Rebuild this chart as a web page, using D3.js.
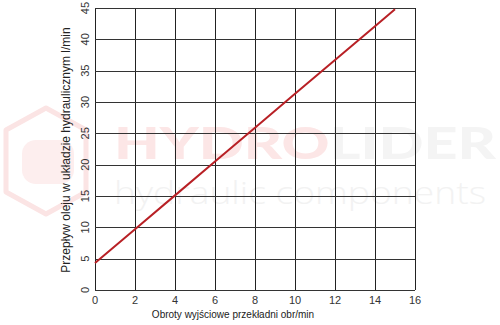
<!DOCTYPE html>
<html>
<head>
<meta charset="utf-8">
<script src="https://cdn.jsdelivr.net/npm/d3@7"></script>
<style>
  body { margin: 0; background: #fff; }
  svg { display: block; font-family: "Liberation Sans", Arial, sans-serif; }
</style>
</head>
<body>
<div id="chart"></div>
<script>
// values
var speeds = [0, 2, 4, 6, 8, 10, 12, 14, 15];
var flows = [4.3, 9.7, 15.1, 20.5, 25.9, 31.3, 36.7, 42.1, 44.8];
var xTicks = [0, 2, 4, 6, 8, 10, 12, 14, 16];
var yTicks = [0, 5, 10, 15, 20, 25, 30, 35, 40, 45];
var xTitle = "Obroty wyjściowe przekładni obr/min";
var yTitle = "Przepływ oleju w układzie hydraulicznym l/min";

var width = 500, height = 325,
    margin = {top: 8, right: 85, bottom: 35, left: 95};

var svg = d3.select('#chart').append('svg')
    .attr('width', width)
    .attr('height', height);

// watermark
var wm = svg.append('g').attr('class', 'watermark');
wm.append('path')
    .attr('d', 'M46,108 L86,130 L86,192 L46,214 L6,192 L6,130 Z')
    .attr('fill', 'none')
    .attr('stroke', '#fbe4e4')
    .attr('stroke-width', 5)
    .attr('stroke-linejoin', 'round');
wm.append('rect')
    .attr('x', 22).attr('y', 140).attr('width', 52).attr('height', 44).attr('rx', 14)
    .attr('fill', '#fdeeee');
wm.append('text')
    .attr('x', 114).attr('y', 159)
    .attr('textLength', 382).attr('lengthAdjust', 'spacingAndGlyphs')
    .style('font-family', 'Lato, "Open Sans", sans-serif')
    .style('font-weight', 900)
    .style('font-size', '44px')
    .html('<tspan fill="#fce6e6">HYDRO</tspan><tspan fill="#f4f4f4">LIDER</tspan>');
wm.append('text')
    .attr('x', 114).attr('y', 204)
    .attr('textLength', 372).attr('lengthAdjust', 'spacingAndGlyphs')
    .attr('fill', '#f2f2f2')
    .style('font-family', '"Open Sans", Lato, sans-serif')
    .style('font-weight', 300)
    .style('font-size', '31px')
    .text('hydraulic components');

var x = d3.scaleLinear().domain([0, 16]).range([margin.left, width - margin.right]);
var y = d3.scaleLinear().domain([0, 45]).range([height - margin.bottom, margin.top]);

// grid
svg.append('g')
    .selectAll('line')
    .data(xTicks)
    .join('line')
    .attr('x1', function(d) { return Math.round(x(d)) + 0.5; })
    .attr('x2', function(d) { return Math.round(x(d)) + 0.5; })
    .attr('y1', y(0))
    .attr('y2', y(45))
    .attr('stroke', '#222')
    .attr('stroke-width', 1);

svg.append('g')
    .selectAll('line')
    .data(yTicks)
    .join('line')
    .attr('x1', x(0))
    .attr('x2', x(16))
    .attr('y1', function(d) { return Math.round(y(d)) + 0.5; })
    .attr('y2', function(d) { return Math.round(y(d)) + 0.5; })
    .attr('stroke', '#333')
    .attr('stroke-width', 1);

// tick labels
svg.append('g')
    .selectAll('text')
    .data(xTicks)
    .join('text')
    .attr('x', function(d) { return x(d); })
    .attr('y', y(0) + 14)
    .attr('text-anchor', 'middle')
    .attr('fill', '#333')
    .style('font-size', '11px')
    .text(function(d) { return d; });

svg.append('g')
    .selectAll('text')
    .data(yTicks)
    .join('text')
    .attr('transform', function(d) { return 'translate(' + (x(0) - 6) + ',' + y(d) + ') rotate(-90)'; })
    .attr('text-anchor', 'middle')
    .attr('fill', '#333')
    .style('font-size', '11px')
    .text(function(d) { return d; });

// titles
svg.append('text')
    .attr('x', 233)
    .attr('y', 318)
    .attr('text-anchor', 'middle')
    .attr('fill', '#222')
    .style('font-size', '10px')
    .text(xTitle);

svg.append('text')
    .attr('transform', 'translate(70,150) rotate(-90)')
    .attr('text-anchor', 'middle')
    .attr('fill', '#222')
    .style('font-size', '12px')
    .text(yTitle);

// data line
var line = d3.line()
    .x(function(d, i) { return x(speeds[i]); })
    .y(function(d) { return y(d); });

svg.append('path')
    .datum(flows)
    .attr('d', line)
    .attr('fill', 'none')
    .attr('stroke', '#b82025')
    .attr('stroke-width', 2);
</script>
</body>
</html>
